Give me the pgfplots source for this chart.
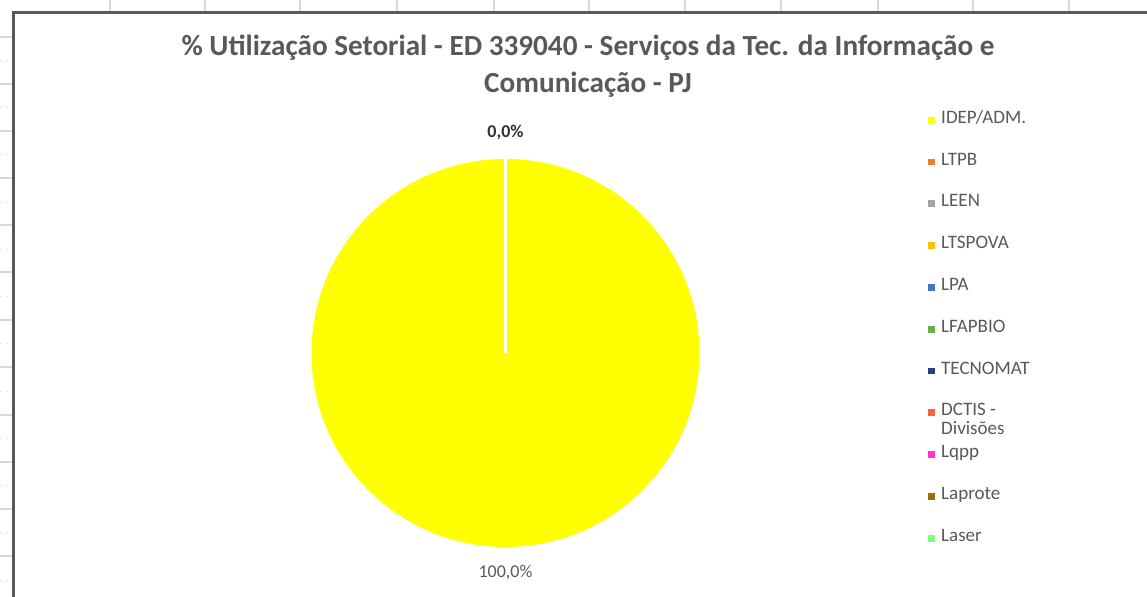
\documentclass[border=0pt]{standalone}
\usepackage{fontspec}
\setmainfont{Carlito}
\usepackage{pgfplots}
\usepackage{pgfplotstable}
\pgfplotsset{compat=1.18}
\definecolor{txt}{HTML}{595959}
\definecolor{frame}{HTML}{5A5A5A}
\definecolor{gridc}{HTML}{D9D9D9}
\definecolor{cIDEP}{HTML}{FFFF00}
\definecolor{cLTPB}{HTML}{ED7D31}
\definecolor{cLEEN}{HTML}{A5A5A5}
\definecolor{cLTSPOVA}{HTML}{FFC000}
\definecolor{cLPA}{HTML}{4472C4}
\definecolor{cLFAPBIO}{HTML}{70AD47}
\definecolor{cTECNOMAT}{HTML}{264478}
\definecolor{cDCTIS}{HTML}{FF5F3F}
\definecolor{cLqpp}{HTML}{FF33CC}
\definecolor{cLaprote}{HTML}{997300}
\definecolor{cLaser}{HTML}{7FFF7F}

% share (%) of each sector, in legend order
\pgfplotstableread{
idx value
1 100.0
2 0.0
3 0.0
4 0.0
5 0.0
6 0.0
7 0.0
8 0.0
9 0.0
10 0.0
11 0.0
}\piedata

\begin{document}
\begin{tikzpicture}[x=0.5pt,y=0.5pt]
\useasboundingbox (0,0) rectangle (1147,597);
\fill[white] (0,0) rectangle (1147,597);
% spreadsheet grid behind the chart
\foreach \gx in {110,205,300,397,494,589,685,781,878,973,1069}
  \draw[gridc, line width=0.6pt] (\gx,597) -- (\gx,584);
\foreach \gy in {37,84,131,178,225,272,320,367,415,462,509,556}
  \draw[gridc, line width=0.6pt] (0,597-\gy) -- (13,597-\gy);
\foreach \gy in {60,107,154,202,249,296,343,391,438,485,532,580}
  \draw[gridc!60, line width=0.4pt, dash pattern=on 1pt off 2pt] (0,597-\gy) -- (13,597-\gy);
% chart frame
\draw[frame, line width=1.2pt] (13.5,0) -- (13.5,584.5) -- (1147,584.5);

% title
\node[txt, font=\fontsize{14.6}{16}\selectfont\bfseries] at (588,597-48)
  {\% Utilização Setorial - ED 339040 - Serviços da Tec. da Informação e};
\node[txt, font=\fontsize{14.6}{16}\selectfont\bfseries] at (588,597-85)
  {Comunicação - PJ};

\begin{axis}[
  at={(252.75pt,122pt)}, anchor=center,
  scale only axis, width=194pt, height=194pt,
  xmin=-1, xmax=1, ymin=-1, ymax=1,
  hide axis, clip=false,
  legend image code/.code={\fill[#1, draw=none] (0pt,-1.7pt) rectangle (3.4pt,1.7pt);},
  legend style={
    at={(axis description cs:1.589,1.155)}, anchor=north west,
    draw=none, fill=none, inner sep=0pt,
    font=\fontsize{9.5}{11}\selectfont, text=txt,
    row sep=0pt, column sep=3pt,
    nodes={inner sep=0pt, text height=12pt, text depth=8.9pt},
  },
  legend cell align=left,
]
\pgfplotstablegetelem{0}{value}\of\piedata
\edef\pieA{\pgfplotsretval}
\fill[cIDEP] (axis cs:0,0) -- (axis cs:0,1)
  arc[start angle=90, delta angle=-3.6*\pieA+0.001, radius=97pt] -- cycle;
\draw[white, line width=1.5pt] (axis cs:0,0) -- (axis cs:0,1.005);
\node[text=txt!55!black, font=\fontsize{9}{10}\selectfont\bfseries] at (axis cs:0,1.134) {0,0\%};
\node[text=txt, font=\fontsize{9}{10}\selectfont] at (axis cs:0,-1.134) {100,0\%};

\addlegendimage{fill=cIDEP, draw=none}
\addlegendentry{IDEP/ADM.}
\addlegendimage{fill=cLTPB, draw=none}
\addlegendentry{LTPB}
\addlegendimage{fill=cLEEN, draw=none}
\addlegendentry{LEEN}
\addlegendimage{fill=cLTSPOVA, draw=none}
\addlegendentry{LTSPOVA}
\addlegendimage{fill=cLPA, draw=none}
\addlegendentry{LPA}
\addlegendimage{fill=cLFAPBIO, draw=none}
\addlegendentry{LFAPBIO}
\addlegendimage{fill=cTECNOMAT, draw=none}
\addlegendentry{TECNOMAT}
\addlegendimage{fill=cDCTIS, draw=none}
\addlegendentry{\smash{\begin{tabular}[t]{@{}l@{}}DCTIS -\\[-1.5pt]Divisões\end{tabular}}}
\addlegendimage{fill=cLqpp, draw=none}
\addlegendentry{Lqpp}
\addlegendimage{fill=cLaprote, draw=none}
\addlegendentry{Laprote}
\addlegendimage{fill=cLaser, draw=none}
\addlegendentry{Laser}
\end{axis}
\end{tikzpicture}
\end{document}
